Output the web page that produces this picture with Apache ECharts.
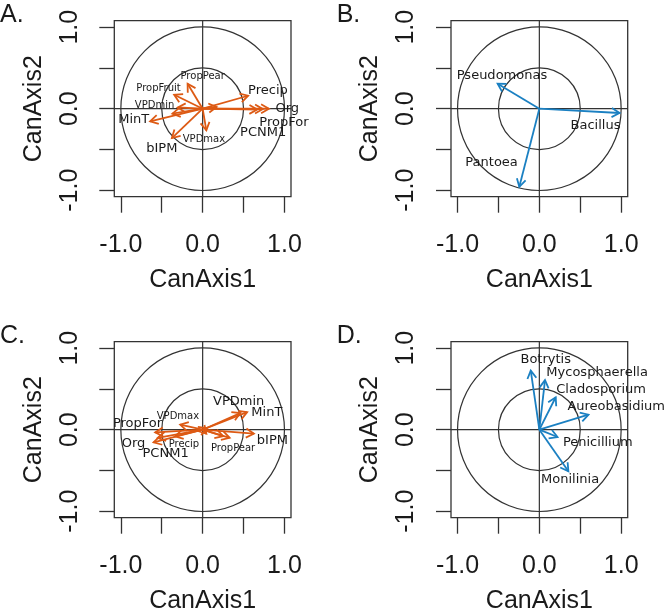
<!DOCTYPE html>
<html><head><meta charset="utf-8">
<script src="https://cdn.jsdelivr.net/npm/echarts@6/dist/echarts.min.js"></script>
<style>html,body{margin:0;padding:0;background:#fff}#c{width:666px;height:615px}</style>
</head><body><div id="c"></div>
<script>
// ---- axes / ticks ----
const axisRange = [-1.08, 1.08];
const tickValues = [-1, -0.5, 0, 0.5, 1];
const tickLabelValues = [-1, 0, 1];
const refCircles = [1, 0.5];
const panelLetters = ['A.', 'B.', 'C.', 'D.'];

// ---- Panel A: environmental vectors (arrow tips) ----
const envA_x = [-0.184, -0.348, -0.305, -0.642, -0.376, 0.045, 0.556, 0.810, 0.736, 0.667, 0.170, -0.370];
const envA_y = [0.306, 0.171, 0.015, -0.155, -0.360, -0.265, 0.159, 0.000, -0.005, -0.010, 0.020, -0.060];
// Panel A labels
const labA_text = ['PropPear', 'PropFruit', 'VPDmin', 'MinT', 'bIPM', 'VPDmax', 'Precip', 'Org', 'PropFor', 'PCNM1'];
const labA_x = [0.000, -0.540, -0.588, -0.843, -0.499, 0.016, 0.798, 1.035, 0.994, 0.740];
const labA_y = [0.396, 0.253, 0.037, -0.135, -0.494, -0.380, 0.224, 0.000, -0.167, -0.298];
const labA_big = [0, 0, 0, 1, 1, 0, 1, 1, 1, 1];

// ---- Panel B: bacteria ----
const bacB_x = [0.980, -0.510, -0.245];
const bacB_y = [-0.053, 0.306, -0.959];
const labB_text = ['Bacillus', 'Pseudomonas', 'Pantoea'];
const labB_x = [0.686, -0.457, -0.584];
const labB_y = [-0.204, 0.408, -0.657];
const labB_big = [1, 1, 1];

// ---- Panel C: environmental vectors ----
const envC_x = [0.544, 0.460, 0.626, 0.330, 0.250, -0.274, -0.580, -0.600, -0.550, -0.337, 0.050, 0.045];
const envC_y = [0.216, 0.204, -0.049, -0.100, -0.080, 0.061, -0.033, -0.155, -0.100, -0.082, 0.020, -0.050];
const labC_text = ['VPDmin', 'MinT', 'VPDmax', 'PropFor', 'Org', 'PCNM1', 'Precip', 'PropPear', 'bIPM'];
const labC_x = [0.440, 0.785, -0.302, -0.796, -0.845, -0.453, -0.229, 0.372, 0.853];
const labC_y = [0.347, 0.204, 0.163, 0.069, -0.171, -0.294, -0.176, -0.229, -0.131];
const labC_big = [1, 1, 0, 1, 1, 1, 0, 0, 1];

// ---- Panel D: fungi ----
const funD_x = [-0.105, 0.069, 0.200, 0.600, 0.222, 0.355];
const funD_y = [0.725, 0.608, 0.398, 0.184, -0.090, -0.510];
const labD_text = ['Botrytis', 'Mycosphaerella', 'Cladosporium', 'Aureobasidium', 'Penicillium', 'Monilinia'];
const labD_x = [0.078, 0.706, 0.755, 0.939, 0.714, 0.376];
const labD_y = [0.857, 0.706, 0.490, 0.286, -0.155, -0.612];
const labD_big = [1, 1, 1, 1, 1, 1];

// ---- styling ----
const ORANGE = '#dd5a14';
const BLUE = '#1b80c2';
const INK = '#1a1a1a';
const LINE = '#333';
const AXFONT = 'Liberation Sans, Arial, sans-serif';
const TXFONT = 'DejaVu Sans, sans-serif';

const grids = [
  {left: 114.3, top: 20.7, width: 176.7, height: 176},
  {left: 451, top: 20.7, width: 176.7, height: 176},
  {left: 114.3, top: 341.7, width: 176.7, height: 176},
  {left: 451, top: 341.7, width: 176.7, height: 176}
].map(g => Object.assign({show: true, borderColor: LINE, borderWidth: 1.3, backgroundColor: 'transparent'}, g));

function xAx(i) {
  return {
    gridIndex: i, type: 'value', min: axisRange[0], max: axisRange[1], position: 'bottom',
    axisLine: {show: false, onZero: false},
    splitLine: {show: false},
    axisTick: {show: true, length: 16, customValues: tickValues, lineStyle: {color: LINE, width: 1.3}},
    axisLabel: {customValues: tickLabelValues, formatter: v => v.toFixed(1), margin: 36,
      fontSize: 25, color: INK, fontFamily: AXFONT},
    name: 'CanAxis1', nameLocation: 'middle', nameGap: 71,
    nameTextStyle: {fontSize: 25, color: INK, fontFamily: AXFONT}
  };
}
function yAx(i) {
  return {
    gridIndex: i, type: 'value', min: axisRange[0], max: axisRange[1], position: 'left',
    axisLine: {show: false, onZero: false},
    splitLine: {show: false},
    axisTick: {show: true, length: 15, customValues: tickValues, lineStyle: {color: LINE, width: 1.3}},
    axisLabel: {customValues: tickLabelValues, formatter: v => v.toFixed(1), margin: 32, rotate: 90,
      fontSize: 25, color: INK, fontFamily: AXFONT},
    name: 'CanAxis2', nameLocation: 'middle', nameGap: 68,
    nameTextStyle: {fontSize: 25, color: INK, fontFamily: AXFONT}
  };
}

function refSeries(i) {
  return [{
    type: 'custom', xAxisIndex: i, yAxisIndex: i, silent: true, clip: false,
    data: refCircles.map(r => [r, 0]),
    renderItem: (p, api) => {
      const c = api.coord([0, 0]);
      const r = api.size([api.value(0), 0])[0];
      return {type: 'circle', shape: {cx: c[0], cy: c[1], r: r},
        style: {fill: 'none', stroke: LINE, lineWidth: 1.2}};
    }
  }, {
    type: 'custom', xAxisIndex: i, yAxisIndex: i, silent: true,
    data: [[0, 0]],
    renderItem: (p, api) => {
      const a = api.coord([axisRange[0], 0]), b = api.coord([axisRange[1], 0]);
      const c = api.coord([0, axisRange[0]]), d = api.coord([0, axisRange[1]]);
      return {type: 'group', children: [
        {type: 'line', shape: {x1: a[0], y1: a[1], x2: b[0], y2: b[1]}, style: {stroke: LINE, lineWidth: 1.2}},
        {type: 'line', shape: {x1: c[0], y1: c[1], x2: d[0], y2: d[1]}, style: {stroke: LINE, lineWidth: 1.2}}
      ]};
    }
  }];
}

function arrowSeries(i, xs, ys, color) {
  return {
    type: 'custom', xAxisIndex: i, yAxisIndex: i, silent: true, clip: false,
    data: xs.map((x, k) => [x, ys[k]]),
    renderItem: (p, api) => {
      const o = api.coord([0, 0]);
      const t = api.coord([api.value(0), api.value(1)]);
      const ang = Math.atan2(t[1] - o[1], t[0] - o[0]);
      const L = 9, a = Math.PI / 6;
      const w1 = [t[0] - L * Math.cos(ang - a), t[1] - L * Math.sin(ang - a)];
      const w2 = [t[0] - L * Math.cos(ang + a), t[1] - L * Math.sin(ang + a)];
      return {type: 'group', children: [
        {type: 'line', shape: {x1: o[0], y1: o[1], x2: t[0], y2: t[1]}, style: {stroke: color, lineWidth: 1.8}},
        {type: 'polyline', shape: {points: [w1, t, w2]}, style: {stroke: color, fill: 'none', lineWidth: 1.8}}
      ]};
    }
  };
}

function labelSeries(i, texts, xs, ys, big) {
  return {
    type: 'custom', xAxisIndex: i, yAxisIndex: i, silent: true, clip: false, z: 5,
    data: xs.map((x, k) => [x, ys[k], k]),
    renderItem: (p, api) => {
      const k = api.value(2);
      const c = api.coord([api.value(0), api.value(1)]);
      return {type: 'text', x: c[0], y: c[1],
        style: {text: texts[k], fontSize: big[k] ? 13 : 10, fontFamily: TXFONT, fill: INK,
          align: 'center', verticalAlign: 'middle'}};
    }
  };
}

const letterPos = [[0, 3], [336.7, 3], [0, 324], [336.7, 324]];

const option = {
  animation: false,
  backgroundColor: '#fff',
  title: panelLetters.map((t, i) => ({text: t, left: letterPos[i][0], top: letterPos[i][1], padding: 0,
    textStyle: {fontSize: 25, fontWeight: 'normal', color: INK, fontFamily: AXFONT}})),
  grid: grids,
  xAxis: [0, 1, 2, 3].map(xAx),
  yAxis: [0, 1, 2, 3].map(yAx),
  series: [
    ...refSeries(0), ...refSeries(1), ...refSeries(2), ...refSeries(3),
    arrowSeries(0, envA_x, envA_y, ORANGE),
    arrowSeries(1, bacB_x, bacB_y, BLUE),
    arrowSeries(2, envC_x, envC_y, ORANGE),
    arrowSeries(3, funD_x, funD_y, BLUE),
    labelSeries(0, labA_text, labA_x, labA_y, labA_big),
    labelSeries(1, labB_text, labB_x, labB_y, labB_big),
    labelSeries(2, labC_text, labC_x, labC_y, labC_big),
    labelSeries(3, labD_text, labD_x, labD_y, labD_big)
  ]
};
echarts.init(document.getElementById('c'), null, {renderer: 'canvas'}).setOption(option);
</script></body></html>
